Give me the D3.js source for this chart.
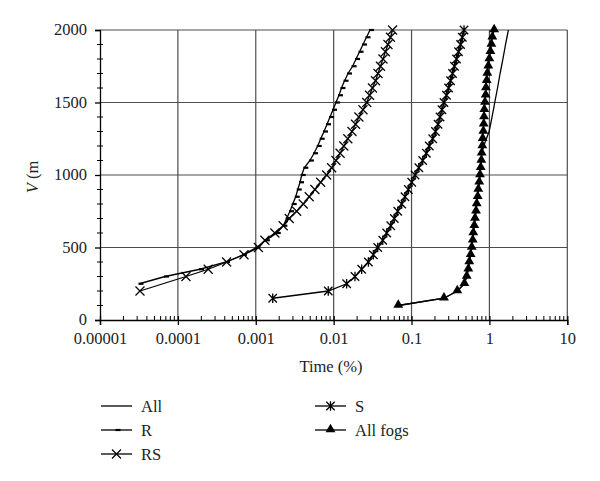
<!DOCTYPE html>
<html>
<head>
<meta charset="utf-8">
<script src="https://cdn.jsdelivr.net/npm/d3@7"></script>
<style>
  html, body { margin: 0; padding: 0; background: #fff; }
  svg { display: block; }
  text { font-family: "Liberation Serif", "DejaVu Serif", serif; fill: #222; }
</style>
</head>
<body>
<svg id="chart" width="600" height="481"></svg>
<script>
// ---- data (visibility V in m, time in %) ----
const xTickValues = [0.00001, 0.0001, 0.001, 0.01, 0.1, 1, 10];
const xTickLabels = ["0.00001", "0.0001", "0.001", "0.01", "0.1", "1", "10"];
const yTickValues = [0, 500, 1000, 1500, 2000];

const allV = [100,150,200,250,300,350,400,450,500,550,600,650,700,750,800,850,900,950,1000,1050,1100,1150,1200,1250,1300,1350,1400,1450,1500,1550,1600,1650,1700,1750,1800,1850,1900,1950,2000];
const allT = [0.0676,0.261,0.387,0.477,0.511,0.536,0.552,0.575,0.593,0.611,0.621,0.640,0.653,0.673,0.687,0.708,0.720,0.741,0.757,0.773,0.787,0.800,0.845,0.915,0.99,1.036,1.08,1.126,1.17,1.22,1.27,1.32,1.37,1.43,1.49,1.55,1.61,1.68,1.75];

const rV = [250,300,350,400,450,500,550,600,650,700,750,800,850,900,950,1000,1050,1100,1150,1200,1250,1300,1350,1400,1450,1500,1550,1600,1650,1700,1750,1800,1850,1900,1950,2000];
const rT = [3.21e-5,6.84e-5,1.92e-4,4.15e-4,6.85e-4,1.02e-3,1.35e-3,1.86e-3,2.26e-3,2.49e-3,2.75e-3,2.98e-3,3.26e-3,3.46e-3,3.70e-3,3.89e-3,4.20e-3,4.96e-3,5.60e-3,6.24e-3,6.82e-3,7.52e-3,8.22e-3,8.97e-3,9.82e-3,0.0107,0.0117,0.0126,0.0138,0.0153,0.0175,0.0194,0.0215,0.0238,0.0264,0.0293];

const rsV = [200,300,350,400,450,500,550,600,650,700,750,800,850,900,950,1000,1050,1100,1150,1200,1250,1300,1350,1400,1450,1500,1550,1600,1650,1700,1750,1800,1850,1900,1950,2000];
const rsT = [3.26e-5,1.27e-4,2.45e-4,4.22e-4,7.06e-4,1.08e-3,1.31e-3,1.76e-3,2.25e-3,2.69e-3,3.35e-3,4.07e-3,4.86e-3,5.75e-3,6.81e-3,8.13e-3,9.42e-3,0.0107,0.0121,0.0135,0.0152,0.0172,0.0191,0.0211,0.0238,0.0266,0.0289,0.0315,0.0345,0.0371,0.0399,0.0430,0.0462,0.0498,0.0536,0.0571];

const sV = [150,200,250,300,350,400,450,500,550,600,650,700,750,800,850,900,950,1000,1050,1100,1150,1200,1250,1300,1350,1400,1450,1500,1550,1600,1650,1700,1750,1800,1850,1900,1950,2000];
const sT = [1.65e-3,8.53e-3,0.0147,0.0188,0.0229,0.0279,0.0323,0.0368,0.0427,0.0480,0.0541,0.0601,0.0665,0.0748,0.0824,0.0910,0.1005,0.111,0.124,0.139,0.155,0.169,0.187,0.203,0.219,0.232,0.246,0.261,0.281,0.299,0.317,0.336,0.356,0.378,0.401,0.426,0.449,0.472];

const fogV = [100,150,200,250,300,350,400,450,500,550,600,650,700,750,800,850,900,950,1000,1050,1100,1150,1200,1250,1300,1350,1400,1450,1500,1550,1600,1650,1700,1750,1800,1850,1900,1950,2000];
const fogT = [0.0676,0.261,0.387,0.477,0.511,0.536,0.552,0.575,0.593,0.611,0.621,0.640,0.653,0.673,0.687,0.708,0.720,0.741,0.757,0.773,0.787,0.796,0.811,0.820,0.836,0.845,0.853,0.860,0.877,0.895,0.903,0.923,0.940,0.968,0.998,1.03,1.06,1.09,1.15];

const seriesNames = ["All", "R", "RS", "S", "All fogs"];

// ---- layout ----
const svg = d3.select("#chart");
const x = d3.scaleLog().domain([1e-5, 10]).range([100, 567.3]);
const y = d3.scaleLinear().domain([0, 2000]).range([320, 30]);
const gridColor = "#4d4d4d";

// gridlines
const grid = svg.append("g");
grid.selectAll("line.v").data(xTickValues.slice(1)).join("line")
  .attr("x1", d => x(d)).attr("x2", d => x(d)).attr("y1", y(0)).attr("y2", y(2000))
  .attr("stroke", gridColor).attr("stroke-width", 1.2);
grid.selectAll("line.h").data(yTickValues.slice(1)).join("line")
  .attr("x1", x(1e-5)).attr("x2", x(10)).attr("y1", d => y(d)).attr("y2", d => y(d))
  .attr("stroke", gridColor).attr("stroke-width", 1.2);

// axes
const xAxis = d3.axisBottom(x).tickValues(xTickValues)
  .tickFormat((d, i) => xTickLabels[i]).tickSize(5).tickPadding(7);
const gx = svg.append("g").attr("transform", `translate(0,${y(0)})`).call(xAxis);
gx.select(".domain").attr("stroke", "#000").attr("stroke-width", 1.3);
gx.selectAll(".tick line").attr("stroke", "#000").attr("stroke-width", 1.3).attr("y1", -4);
gx.selectAll(".tick text").attr("font-size", "16.5px").attr("fill", "#222")
  .attr("font-family", "Liberation Serif, serif");
// minor x ticks
const minorX = [];
for (let e = -5; e < 1; e++) for (let m = 2; m <= 9; m++) minorX.push(m * Math.pow(10, e));
svg.append("g").selectAll("line").data(minorX).join("line")
  .attr("x1", d => x(d)).attr("x2", d => x(d)).attr("y1", y(0)).attr("y2", y(0) - 4)
  .attr("stroke", "#000").attr("stroke-width", 1);

const yAxis = d3.axisLeft(y).tickValues(yTickValues).tickFormat(d3.format("d")).tickSize(5).tickPadding(8);
const gy = svg.append("g").attr("transform", `translate(${x(1e-5)},0)`).call(yAxis);
gy.select(".domain").attr("stroke", "#000").attr("stroke-width", 1.3);
gy.selectAll(".tick line").attr("stroke", "#000").attr("stroke-width", 1.3);
gy.selectAll(".tick text").attr("font-size", "16.5px").attr("fill", "#222")
  .attr("font-family", "Liberation Serif, serif").attr("dy", "0.28em");
const minorY = d3.range(100, 2000, 100).filter(v => v % 500 !== 0);
svg.append("g").selectAll("line").data(minorY).join("line")
  .attr("x1", x(1e-5) - 3).attr("x2", x(1e-5) + 3).attr("y1", d => y(d)).attr("y2", d => y(d))
  .attr("stroke", "#000").attr("stroke-width", 1);

// axis titles
svg.append("text").attr("x", 331).attr("y", 372).attr("text-anchor", "middle")
  .attr("font-size", "16.5px").text("Time (%)");
const yl = svg.append("text").attr("transform", "translate(38,177) rotate(-90)")
  .attr("text-anchor", "middle").attr("font-size", "16.5px");
yl.append("tspan").attr("font-style", "italic").text("V");
yl.append("tspan").text(" (m");

// ---- series ----
const line = d3.line().x(d => x(d[1])).y(d => y(d[0]));
function pts(v, t) { return v.map((vv, i) => [vv, t[i]]); }
const series = [
  { name: seriesNames[0], data: pts(allV, allT), marker: "none" },
  { name: seriesNames[1], data: pts(rV, rT), marker: "dash" },
  { name: seriesNames[2], data: pts(rsV, rsT), marker: "x" },
  { name: seriesNames[3], data: pts(sV, sT), marker: "star" },
  { name: seriesNames[4], data: pts(fogV, fogT), marker: "tri" }
];

function drawMarker(g, type, cx, cy) {
  if (type === "dash") {
    g.append("line").attr("x1", cx - 1).attr("x2", cx + 4).attr("y1", cy).attr("y2", cy)
      .attr("stroke", "#000").attr("stroke-width", 2.2);
  } else if (type === "x") {
    const s = 4.5;
    g.append("path").attr("d", `M${cx - s},${cy - s}L${cx + s},${cy + s}M${cx - s},${cy + s}L${cx + s},${cy - s}`)
      .attr("stroke", "#000").attr("stroke-width", 1.2).attr("fill", "none");
  } else if (type === "star") {
    const s = 4.2;
    g.append("path").attr("d", `M${cx - s},${cy - s}L${cx + s},${cy + s}M${cx - s},${cy + s}L${cx + s},${cy - s}M${cx},${cy - s - 0.5}L${cx},${cy + s + 0.5}`)
      .attr("stroke", "#000").attr("stroke-width", 1.3).attr("fill", "none");
  } else if (type === "tri") {
    g.append("path").attr("d", d3.symbol(d3.symbolTriangle, 42)())
      .attr("transform", `translate(${cx},${cy - 0.5})`).attr("fill", "#000");
  }
}

const plot = svg.append("g");
series.forEach(s => {
  plot.append("path").datum(s.data).attr("d", line)
    .attr("fill", "none").attr("stroke", "#000").attr("stroke-width", 1.3);
});
series.forEach(s => {
  const g = plot.append("g");
  s.data.forEach(d => drawMarker(g, s.marker, x(d[1]), y(d[0])));
});

// ---- legend ----
const legendPos = [
  { lx: 101, ty: 406 }, { lx: 101, ty: 430 }, { lx: 101, ty: 454 },
  { lx: 315, ty: 406 }, { lx: 315, ty: 430 }
];
const lg = svg.append("g");
series.forEach((s, i) => {
  const p = legendPos[i];
  lg.append("line").attr("x1", p.lx).attr("x2", p.lx + 31).attr("y1", p.ty).attr("y2", p.ty)
    .attr("stroke", "#000").attr("stroke-width", 1.3);
  drawMarker(lg, s.marker, p.lx + 15.5, p.ty);
  lg.append("text").attr("x", p.lx + 40).attr("y", p.ty + 5.5).attr("font-size", "16.5px").text(s.name);
});
</script>
</body>
</html>
